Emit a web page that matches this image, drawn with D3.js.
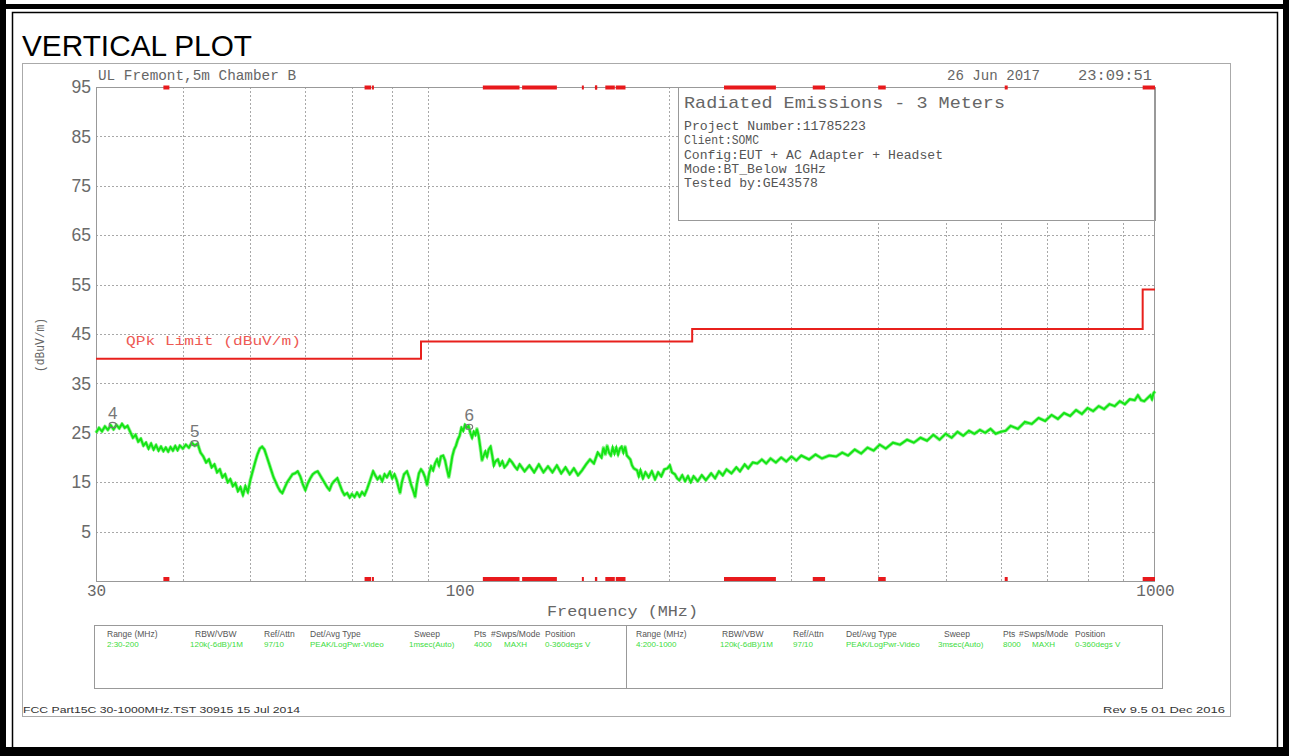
<!DOCTYPE html>
<html><head><meta charset="utf-8">
<script src="https://cdn.jsdelivr.net/npm/d3@7"></script>
<style>body{margin:0;background:#fff}svg{display:block}</style>
</head><body>
<svg id="c" width="1289" height="756"></svg>
<script>
// ---------- data ----------
const yTickLabels = [95,85,75,65,55,45,35,25,15,5];
const yGridValues = [85,75,65,55,45,35,25,15,5];
const xTickLabels = [30,100,1000];
const xGridValues = [40,50,60,70,80,90,200,300,400,500,600,700,800,900];

// restricted bands (MHz)
const bandStart = [37.5,73,74.8,108,123,149.9,156.52475,156.7,162.0125,167.72,240,322,399.9,608,960];
const bandEnd   = [38.25,74.6,75.2,121.94,138,150.05,156.52525,156.9,167.17,173.2,285,335.4,410,614,1000];

// QPk limit (dBuV/m)
const limitFreq  = [30,88,216,960,1000];
const limitLevel = [40,43.5,46,54,54];

// markers
const markerId    = ["4","5","6"];
const markerFreq  = [31.7,41.6,103.2];
const markerLevel = [26.6,22.9,26.2];

// measured trace (MHz, dBuV/m)
const traceFreq = [
 30.0,30.3,30.6,30.9,31.2,31.5,31.8,32.1,32.4,32.7,
 33.0,33.3,33.6,33.9,34.2,34.5,34.8,35.1,35.4,35.7,
 36.0,36.3,36.6,36.9,37.2,37.5,37.8,38.1,38.4,38.7,
 39.0,39.3,39.6,40.0,40.4,40.8,41.2,41.6,42.0,42.4,
 42.8,43.2,43.6,44.0,44.4,44.8,45.2,45.6,46.0,46.4,
 46.8,47.2,47.6,48.0,48.4,48.8,49.2,49.6,50.0,50.4,
 50.8,51.2,51.6,52.0,52.4,52.8,53.2,53.6,54.0,54.4,
 54.8,55.2,55.6,56.0,56.5,57.0,57.5,58.0,58.5,59.0,
 59.5,60.0,60.5,61.0,61.5,62.0,62.5,63.0,63.5,64.0,
 64.5,65.0,65.5,66.0,66.7,67.2,67.8,68.3,68.9,69.5,
 70.0,70.6,71.2,71.8,72.4,73.0,73.6,74.2,74.6,75.1,
 75.6,76.2,76.8,77.4,78.0,78.6,79.4,80.0,80.6,81.2,
 81.6,82.1,82.6,83.2,84.0,84.6,85.2,85.8,86.3,86.8,
 87.4,88.0,88.6,89.2,89.8,90.4,91.0,91.6,92.2,92.8,
 93.4,94.0,94.7,95.3,95.9,96.5,97.0,97.6,98.2,98.8,
 99.4,100.0,100.6,101.2,101.8,102.4,103.0,103.6,104.2,104.8,
 105.4,105.9,106.5,107.1,107.7,108.3,108.9,109.5,110.1,110.8,
 111.4,112.0,112.6,113.5,114.3,115.2,116.0,117.0,118.0,119.0,
 120,121,122,124,126,128,130,132,134,136,
 138,140,142,144,146,148,150,152,154,156,
 158,160,161,162,163,164,165,166,167,168,
 169,170,171,172,173,174,176,177,178,180,
 181,182,183.5,185,187,189,191,193,195,197,
 199,200.6,202,204,205.5,207,209,211,213,215,
 217,220,223,226,230,233,236,239,242,246,
 250,253,257,260,264,268,272,276,280,285,
 290,295,300,305,310,318,325,332,340,348,
 355,362,370,378,386,394,402,410,420,430,
 440,450,460,470,480,490,500,510,520,530,
 540,550,560,570,580,590,600,610,620,635,
 650,665,680,695,710,725,740,755,770,785,
 800,815,830,845,860,875,890,905,920,935,
 945,955,965,975,985,990,995,1000
];
const traceLevel = [
 25.0,26.0,25.3,26.3,25.6,26.5,25.7,26.6,25.9,26.8,
 26.0,26.4,25.2,24.0,24.6,23.2,23.8,22.4,23.0,21.8,
 22.8,21.6,22.5,21.4,22.2,21.3,22.0,21.2,22.1,21.4,
 22.3,21.5,22.4,21.8,22.6,22.0,23.0,22.4,22.8,21.0,
 20.2,19.0,19.6,18.0,18.6,17.0,17.6,16.0,16.6,15.0,
 15.6,14.2,14.8,13.2,14.0,12.4,14.2,13.0,15.4,17.2,
 19.0,20.6,21.8,22.2,21.6,20.2,18.8,17.4,16.0,15.0,
 14.0,13.2,12.8,13.8,15.0,15.8,16.6,16.8,17.2,16.2,
 14.6,13.4,14.8,15.8,16.6,17.0,17.2,16.4,15.6,14.8,
 14.0,13.4,14.6,15.2,15.8,14.6,13.2,12.4,12.8,11.9,
 12.6,12.0,12.9,12.1,13.0,12.4,13.6,15.0,16.0,17.2,
 16.4,15.6,16.2,15.2,16.6,16.0,17.1,15.8,16.6,15.4,
 14.2,12.8,15.0,16.6,17.2,16.0,14.4,13.2,12.0,14.6,
 16.8,17.6,17.0,16.0,14.4,16.8,18.2,17.4,18.8,19.6,
 18.4,20.2,20.4,19.4,17.6,16.0,17.8,20.2,21.6,22.4,
 23.6,24.4,26.0,25.4,26.6,26.0,26.4,25.0,24.0,25.2,
 24.6,25.8,24.4,22.0,19.4,20.4,21.2,20.2,21.6,22.2,
 20.4,18.4,19.2,19.6,18.4,19.2,18.0,18.6,19.6,19.0,
 18.2,17.6,18.6,17.2,18.4,17.0,18.6,17.0,18.2,17.0,
 18.4,16.8,18.0,16.6,17.8,16.4,17.4,18.6,19.6,18.8,
 21.0,20.0,22.0,20.6,22.4,21.0,20.4,22.0,20.8,22.0,
 20.6,21.8,22.2,21.0,22.2,20.4,19.6,18.4,17.8,17.4,
 16.2,17.4,15.8,17.0,16.0,17.2,15.6,17.0,16.2,17.6,
 17.8,18.4,17.0,16.6,15.8,15.4,16.4,15.2,16.2,15.0,
 16.2,15.2,16.4,15.4,16.8,15.8,17.2,16.4,17.6,16.8,
 18.0,17.2,18.6,17.8,19.0,18.8,19.6,18.8,19.8,19.0,
 20.0,19.2,20.2,19.4,20.4,19.6,20.6,19.8,20.4,20.2,
 21.0,20.4,21.6,20.8,22.0,21.4,22.6,21.8,23.0,22.6,
 23.6,23.0,24.0,23.4,24.6,23.6,24.8,24.0,25.2,24.4,
 25.4,24.8,25.6,25.0,25.8,24.8,25.2,25.4,26.4,25.8,
 27.2,26.8,28.0,27.4,28.6,27.8,29.0,28.4,29.6,28.8,
 30.0,29.4,30.4,29.8,30.8,30.4,31.4,30.8,31.8,31.6,
 32.6,31.6,31.4,32.0,32.6,31.8,33.0,33.4
];

// text content
const plotTitle = "VERTICAL PLOT";
const siteText = "UL Fremont,5m Chamber B";
const dateText = "26 Jun 2017";
const timeText = "23:09:51";
const infoTitle = "Radiated Emissions - 3 Meters";
const infoLines = ["Project Number:11785223","Client:SOMC","Config:EUT + AC Adapter + Headset","Mode:BT_Below 1GHz","Tested by:GE43578"];
const limitLabel = "QPk Limit (dBuV/m)";
const yAxisLabel = "(dBuV/m)";
const xAxisLabel = "Frequency (MHz)";
const tableHeaders = ["Range (MHz)","RBW/VBW","Ref/Attn","Det/Avg Type","Sweep","Pts","#Swps/Mode","Position"];
const tableRowA = ["2:30-200","120k(-6dB)/1M","97/10","PEAK/LogPwr-Video","1msec(Auto)","4000","MAXH","0-360degs V"];
const tableRowB = ["4:200-1000","120k(-6dB)/1M","97/10","PEAK/LogPwr-Video","3msec(Auto)","8000","MAXH","0-360degs V"];
const footerLeft = "FCC Part15C 30-1000MHz.TST 30915 15 Jul 2014";
const footerRight = "Rev 9.5 01 Dec 2016";

// ---------- drawing ----------
const svg = d3.select("#c");
const MONO = "'Liberation Mono','DejaVu Sans Mono',monospace";
const SANS = "'Liberation Sans',Arial,sans-serif";
function txt(g,x,y,s,o={}){
  const t=g.append("text").attr("x",x).attr("y",y).text(s)
    .attr("font-family",o.ff||MONO).attr("font-size",o.fs||12).attr("fill",o.fill||"#555");
  if(o.anchor) t.attr("text-anchor",o.anchor);
  if(o.len) t.attr("textLength",o.len).attr("lengthAdjust","spacingAndGlyphs");
  if(o.tr) t.attr("transform",o.tr);
  return t;
}

svg.append("rect").attr("width",1289).attr("height",756).attr("fill","#fff");
// outer frame
svg.append("rect").attr("x",0).attr("y",4).attr("width",1289).attr("height",5).attr("fill","#000");
svg.append("rect").attr("x",0).attr("y",0).attr("width",6).attr("height",756).attr("fill","#000");
svg.append("rect").attr("x",1283).attr("y",0).attr("width",6).attr("height",756).attr("fill","#000");
svg.append("rect").attr("x",0).attr("y",747).attr("width",1289).attr("height",9).attr("fill","#000");
svg.append("path").attr("d","M12.5,747V12.5H1277.5V747").attr("fill","none").attr("stroke","#000").attr("stroke-width",1.5);

txt(svg,22,56,plotTitle,{ff:SANS,fs:29.5,fill:"#000",len:230});

// picture border
svg.append("rect").attr("x",22.5).attr("y",63.5).attr("width",1208).attr("height",653).attr("fill","none").attr("stroke","#aaa");

const L=96,R=1155,T=87,B=581;
const x = d3.scaleLog().domain([30,1000]).range([L,R]);
const y = d3.scaleLinear().domain([-5,95]).range([B,T]);

// grid
const grid = svg.append("g").attr("stroke","#a8a8a8").attr("stroke-dasharray","2,2").attr("stroke-width",1);
grid.selectAll("line.v").data(xGridValues).join("line")
  .attr("x1",d=>Math.round(x(d))+0.5).attr("x2",d=>Math.round(x(d))+0.5).attr("y1",T).attr("y2",B);
grid.selectAll("line.h").data(yGridValues).join("line")
  .attr("y1",d=>Math.round(y(d))+0.5).attr("y2",d=>Math.round(y(d))+0.5).attr("x1",L).attr("x2",R);

// axes labels
const yAxis = d3.axisLeft(y).tickValues(yTickLabels).tickSize(0).tickPadding(5).tickFormat(d3.format("d"));
const gy = svg.append("g").attr("transform",`translate(${L},0)`).call(yAxis);
gy.select(".domain").remove();
gy.selectAll("text").attr("font-family",SANS).attr("font-size",17.5).attr("fill","#6a6a6a");

const xAxis = d3.axisBottom(x).tickValues(xTickLabels).tickSize(0).tickPadding(4).tickFormat(d3.format("d"));
const gx = svg.append("g").attr("transform",`translate(0,${B})`).call(xAxis);
gx.select(".domain").remove();
gx.selectAll("text").attr("font-family",MONO).attr("font-size",16).attr("fill","#666");

// info box
svg.append("rect").attr("x",678.5).attr("y",T+0.5).attr("width",R-678).attr("height",133).attr("fill","#fff").attr("stroke","#999");
txt(svg,684,108,infoTitle,{fs:17,len:321,fill:"#666"});
const infoY=[130,144,159,173,187];
const infoW=[182,75,259,142,134];
infoLines.forEach((s,i)=>txt(svg,684,infoY[i],s,{fs:12.5,len:infoW[i],fill:"#555"}));

// plot border
svg.append("rect").attr("x",L+0.5).attr("y",T+0.5).attr("width",R-L-1).attr("height",B-T).attr("fill","none").attr("stroke","#999");

// restricted band marks
const bands = bandStart.map((s,i)=>({s,e:bandEnd[i]}));
[T-1.5,B-4].forEach(yy=>{
  svg.append("g").selectAll("rect").data(bands).join("rect")
    .attr("x",d=>x(d.s)).attr("width",d=>Math.max(2,x(d.e)-x(d.s)))
    .attr("y",yy).attr("height",4).attr("fill","#e8191c");
});

// header texts
txt(svg,98,80,siteText,{fs:14,len:198,fill:"#666"});
txt(svg,947,80,dateText,{fs:14,len:93,fill:"#666"});
txt(svg,1078,80,timeText,{fs:14,len:74,fill:"#666"});

// axis titles
txt(svg,547,616,xAxisLabel,{fs:15,len:151,fill:"#666"});
txt(svg,0,0,yAxisLabel,{fs:12,len:54,fill:"#666",anchor:"middle",tr:"translate(44,345) rotate(-90)"});

// limit line
const limPts = limitFreq.map((f,i)=>[f,limitLevel[i]]);
svg.append("path").datum(limPts)
  .attr("d",d3.line().x(d=>x(d[0])).y(d=>y(d[1])).curve(d3.curveStepAfter))
  .attr("fill","none").attr("stroke","#e8201c").attr("stroke-width",2);
txt(svg,126,345,limitLabel,{fs:13,len:175,fill:"#ee5a55"});

// trace
const trPts = traceFreq.map((f,i)=>[f,traceLevel[i]]);
const lineGen = d3.line().x(d=>x(d[0])).y(d=>y(d[1]));
svg.append("path").datum(trPts).attr("d",lineGen)
  .attr("fill","none").attr("stroke","#7ef07e").attr("stroke-width",3.6).attr("stroke-linejoin","round").attr("opacity",0.8);
svg.append("path").datum(trPts).attr("d",lineGen)
  .attr("fill","none").attr("stroke","#14e414").attr("stroke-width",2).attr("stroke-linejoin","miter");

// markers
markerId.forEach((id,i)=>{
  const mx=x(markerFreq[i]), my=y(markerLevel[i]);
  svg.append("ellipse").attr("cx",mx).attr("cy",my).attr("rx",3.5).attr("ry",2.6)
    .attr("fill","none").attr("stroke","#777").attr("stroke-width",1.2);
  txt(svg,mx,my-6,id,{ff:SANS,fs:17,fill:"#777",anchor:"middle"});
});

// settings table
svg.append("rect").attr("x",94.5).attr("y",625.5).attr("width",1068).attr("height",63).attr("fill","none").attr("stroke","#999");
svg.append("line").attr("x1",626.5).attr("x2",626.5).attr("y1",625.5).attr("y2",688.5).attr("stroke","#999");
const hdrXA=[107,195,264,310,414,474,491,545];
const valXA=[107,190,264,310,409,474,504,545];
const hdrXB=[636,722,793,846,944,1003,1019,1075];
const valXB=[636,720,793,846,938,1003,1032,1075];
const TF="'Liberation Sans',sans-serif";
tableHeaders.forEach((s,i)=>{
  txt(svg,hdrXA[i],637,s,{ff:TF,fs:8.5,fill:"#555"});
  txt(svg,hdrXB[i],637,s,{ff:TF,fs:8.5,fill:"#555"});
});
tableRowA.forEach((s,i)=>txt(svg,valXA[i],647,s,{ff:TF,fs:8,fill:"#3ddc3d"}));
tableRowB.forEach((s,i)=>txt(svg,valXB[i],647,s,{ff:TF,fs:8,fill:"#3ddc3d"}));

// footer
txt(svg,23,713,footerLeft,{ff:TF,fs:9.5,len:277,fill:"#333"});
txt(svg,1103,713,footerRight,{ff:TF,fs:9.5,len:122,fill:"#333"});
</script>
</body></html>
